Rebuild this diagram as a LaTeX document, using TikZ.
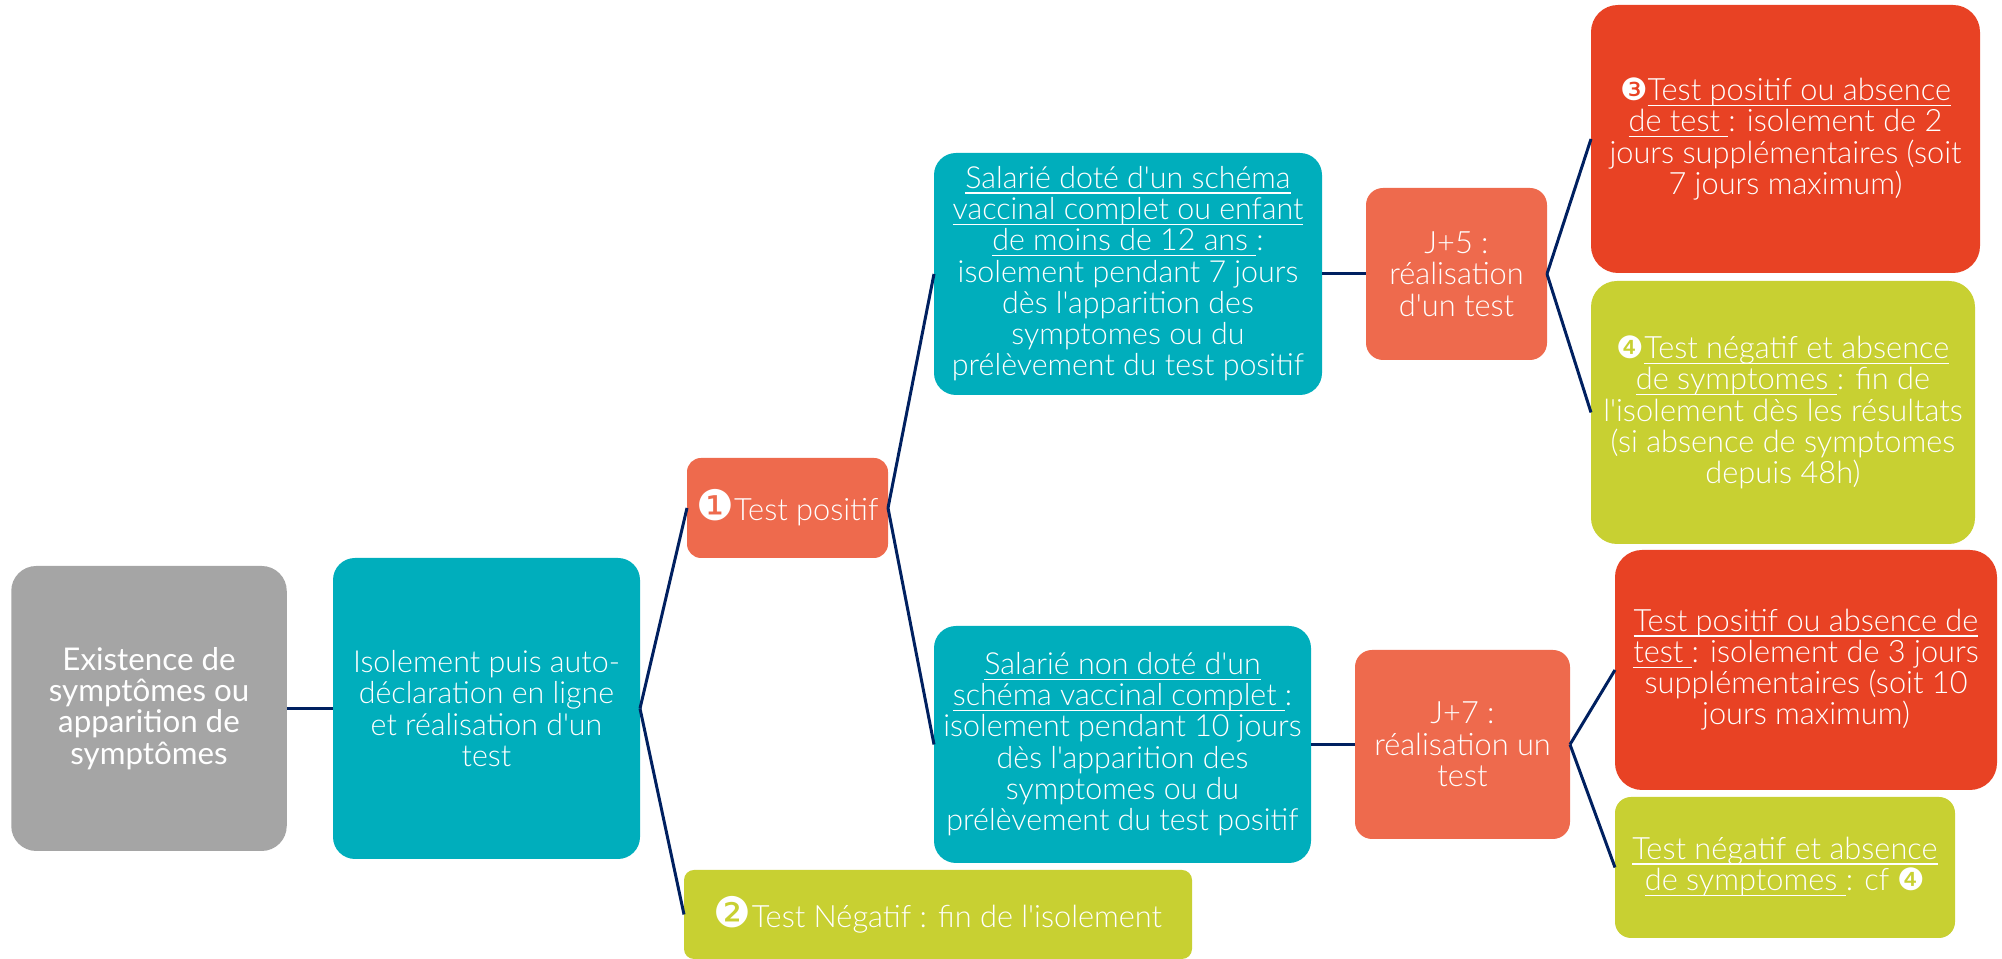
\documentclass[tikz,border=0pt]{standalone}
\usepackage{fontspec}
\newfontfamily\boxfont{Lato Light}
\newfontfamily\greyfont{Lato}
\newfontfamily\dingfont{DejaVu Sans}
\newcommand\soustrait[1]{\underline{\smash{#1}}\vphantom{X}}
\newcommand\grandrond[1]{{\dingfont\fontsize{12}{8.9}\selectfont #1}}
\definecolor{boxgrey}{HTML}{A5A5A5}
\definecolor{boxteal}{HTML}{00AEBC}
\definecolor{boxorange}{HTML}{EE6A4D}
\definecolor{boxgreen}{HTML}{C8D032}
\definecolor{boxred}{HTML}{E84224}
\definecolor{linknavy}{HTML}{002060}
\begin{document}
\begin{tikzpicture}[
    every node/.style={
      inner sep=0pt,
      outer sep=0pt,
      align=center,
      text=white,
      font=\boxfont\fontsize{8.75}{8.9}\selectfont,
    },
    link/.style={draw=linknavy, line width=.85pt},
    greybox/.style={fill=boxgrey, rounded corners=.25cm, font=\greyfont\fontsize{8.9}{8.9}\selectfont},
    tealbox/.style={fill=boxteal, rounded corners=.22cm, font=\boxfont\fontsize{8.65}{8.9}\selectfont},
    orangebox/.style={fill=boxorange, rounded corners=.14cm},
    greenbox/.style={fill=boxgreen, rounded corners=.26cm},
    redbox/.style={fill=boxred, rounded corners=.27cm},
  ]
  \useasboundingbox (0,0) rectangle (20.02,9.59);
  \node[greybox, minimum width=2.755cm, minimum height=2.85cm] (existence) at (1.49,2.505)
  {Existence de\\symptômes ou\\apparition de\\symptômes};
  \node[tealbox, minimum width=3.07cm, minimum height=3.01cm] (isolement) at (4.865,2.505)
  {Isolement puis auto-\\déclaration en ligne\\et réalisation d'un\\test};
  \node[orangebox, minimum width=2.01cm, minimum height=1cm] (testpos) at (7.875,4.51)
  {\grandrond{❶}Test positif};
  \node[greenbox, rounded corners=.1cm, minimum width=5.08cm, minimum height=.89cm] (testneg) at (9.38,.445)
  {\grandrond{❷}Test Négatif : fin de l'isolement};
  \node[tealbox, minimum width=3.88cm, minimum height=2.42cm] (schema) at (11.28,6.85)
  {\soustrait{Salarié doté d'un schéma}\\\soustrait{vaccinal complet ou enfant}\\\soustrait{de moins de 12 ans\ }:\\isolement pendant 7 jours\\dès l'apparition des\\symptomes ou du\\prélèvement du test positif};
  \node[tealbox, minimum width=3.77cm, minimum height=2.37cm] (nonschema) at (11.225,2.145)
  {\soustrait{Salarié non doté d'un}\\\soustrait{schéma vaccinal complet\ }:\\isolement pendant 10 jours\\dès l'apparition des\\symptomes ou du\\prélèvement du test positif};
  \node[orangebox, rounded corners=.17cm, minimum width=1.81cm, minimum height=1.72cm] (jcinq) at (14.565,6.85)
  {J+5 :\\réalisation\\d'un test};
  \node[orangebox, rounded corners=.17cm, minimum width=2.15cm, minimum height=1.89cm] (jsept) at (14.625,2.145)
  {J+7 :\\réalisation un\\test};
  \node[redbox, minimum width=3.89cm, minimum height=2.68cm] (posdeux) at (17.855,8.2)
  {{\dingfont ❸}\soustrait{Test positif ou absence}\\\soustrait{de test\ }: isolement de 2\\jours supplémentaires (soit\\7 jours maximum)};
  \node[greenbox, minimum width=3.84cm, minimum height=2.63cm] (negquatre) at (17.83,5.465)
  {{\dingfont ❹}\soustrait{Test négatif et absence}\\\soustrait{de symptomes\ }: fin de\\l'isolement dès les résultats\\(si absence de symptomes\\depuis 48h)};
  \node[redbox, minimum width=3.82cm, minimum height=2.4cm] (postrois) at (18.06,2.89)
  {\soustrait{Test positif ou absence de}\\\soustrait{test\ }: isolement de 3 jours\\supplémentaires (soit 10\\jours maximum)};
  \node[greenbox, rounded corners=.16cm, minimum width=3.4cm, minimum height=1.41cm] (negcf) at (17.85,.915)
  {\soustrait{Test négatif et absence}\\\soustrait{de symptomes\ }: cf {\dingfont ❹}};
  \draw[link] (existence.east) -- (isolement.west);
  \draw[link] (isolement.east) -- (testpos.west);
  \draw[link] (isolement.east) -- (testneg.west);
  \draw[link] (testpos.east) -- (schema.west);
  \draw[link] (testpos.east) -- (nonschema.west);
  \draw[link] (schema.east) -- (jcinq.west);
  \draw[link] (nonschema.east) -- (jsept.west);
  \draw[link] (jcinq.east) -- (posdeux.west);
  \draw[link] (jcinq.east) -- (negquatre.west);
  \draw[link] (jsept.east) -- (postrois.west);
  \draw[link] (jsept.east) -- (negcf.west);
\end{tikzpicture}
\end{document}
